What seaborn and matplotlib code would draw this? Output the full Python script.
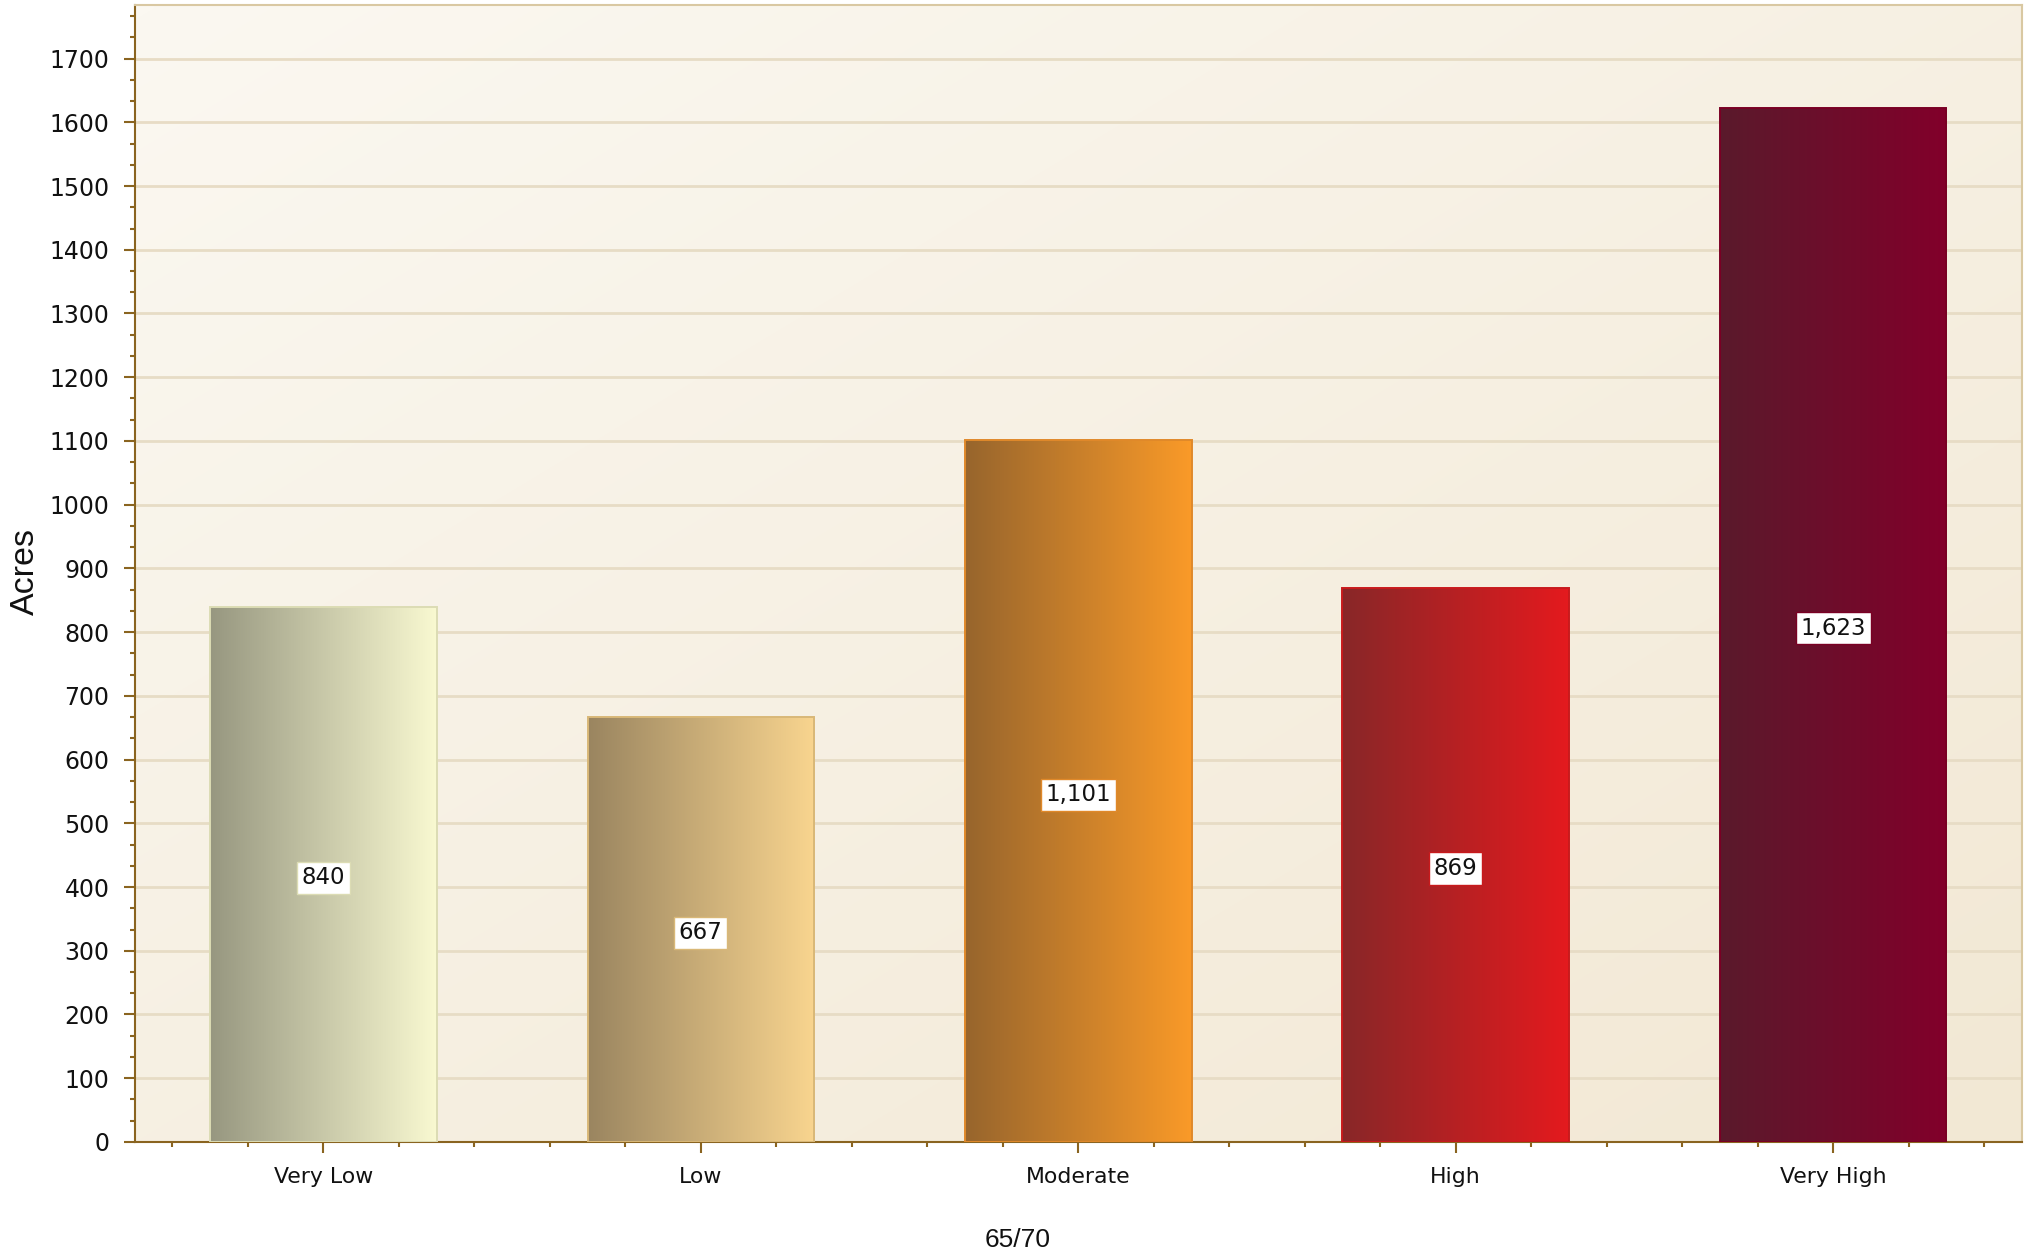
import numpy as np
import pandas as pd
import matplotlib
matplotlib.use("Agg")
import matplotlib.pyplot as plt
from matplotlib.colors import LinearSegmentedColormap
from matplotlib.ticker import MultipleLocator, FuncFormatter
import seaborn as sns

# Acreage per hazard class
categories = ["Very Low", "Low", "Moderate", "High", "Very High"]
acres = [840, 667, 1101, 869, 1623]

# left -> right gradient colours for each bar, plus its outline
grad_left = ["#979780", "#9a8560", "#97652d", "#882728", "#5a1a2c"]
grad_right = ["#f9f9d1", "#f9d58f", "#fa9a28", "#e41a1e", "#82002a"]
edge_cols = ["#dcdcb4", "#d9b878", "#e0892a", "#c81a1c", "#7a0024"]

x_title = "65/70"
y_title = "Acres"

sns.set_style("ticks")
plt.rcParams["font.family"] = ["DejaVu Sans"]

fig = plt.figure(figsize=(20.36, 12.56), dpi=100)
fig.patch.set_facecolor("white")
ax = fig.add_axes([0.0661, 0.0908, 0.9270, 0.9052])

df = pd.DataFrame({"category": categories, "acres": acres})
sns.barplot(data=df, x="category", y="acres", order=categories, width=0.6,
            color="#cccccc", ax=ax, zorder=3, saturation=1)

ax.set_xlim(-0.5, 4.5)
ax.set_ylim(0, 1784)

# soft diagonal background wash
ny, nx = 200, 200
yy, xx = np.mgrid[0:1:ny * 1j, 0:1:nx * 1j]
t = (xx + yy) / 2.0
bg_cmap = LinearSegmentedColormap.from_list("bg", ["#fbf8f1", "#f2e8d4"])
ax.imshow(t, cmap=bg_cmap, extent=[0, 1, 0, 1], transform=ax.transAxes,
          aspect="auto", zorder=0, origin="upper", interpolation="bilinear")
ax.set_facecolor("none")

# horizontal gradient fills clipped to each bar
grad = np.linspace(0, 1, 256).reshape(1, -1)
bars = sorted(ax.patches, key=lambda p: p.get_x())
for bar, cl, cr, ec, val in zip(bars, grad_left, grad_right, edge_cols, acres):
    x0, y0 = bar.get_x(), bar.get_y()
    w, h = bar.get_width(), bar.get_height()
    cmap = LinearSegmentedColormap.from_list("bar", [cl, cr])
    im = ax.imshow(grad, cmap=cmap, extent=[x0, x0 + w, y0, y0 + h],
                   aspect="auto", zorder=3, interpolation="bilinear")
    im.set_clip_path(bar)
    bar.set_facecolor("none")
    bar.set_edgecolor(ec)
    bar.set_linewidth(1.4)
    bar.set_zorder(4)
    ax.annotate(f"{val:,}", xy=(x0 + w / 2, y0 + h / 2),
                xytext=(0, -2.5), textcoords="offset points",
                ha="center", va="center", fontsize=16.5, color="#111111",
                zorder=6,
                bbox=dict(boxstyle="square,pad=0.2", facecolor="white",
                          edgecolor=ec, linewidth=1.0))

ax.set_xlim(-0.5, 4.5)
ax.set_ylim(0, 1784)

# axes, ticks and grid
brown = "#8a6420"
tan = "#d9c8a2"
ax.yaxis.set_major_locator(MultipleLocator(100))
ax.yaxis.set_minor_locator(MultipleLocator(100 / 3))
ax.yaxis.set_major_formatter(FuncFormatter(lambda v, p: f"{int(v)}"))
ax.xaxis.set_minor_locator(MultipleLocator(0.2))
ax.grid(axis="y", which="major", color="#e7dcc5", linewidth=2, zorder=1)
ax.set_axisbelow(True)

ax.tick_params(axis="both", which="major", direction="out", length=8,
               width=1.5, color=brown, labelcolor="#111111", pad=10)
ax.tick_params(axis="x", which="major", labelsize=15.8)
ax.tick_params(axis="y", which="major", labelsize=17)
ax.tick_params(axis="both", which="minor", direction="out", length=3.6,
               width=1.5, color=brown)
for side in ("left", "bottom"):
    ax.spines[side].set_color(brown)
    ax.spines[side].set_linewidth(1.5)
for side in ("top", "right"):
    ax.spines[side].set_visible(True)
    ax.spines[side].set_color(tan)
    ax.spines[side].set_linewidth(1.5)

ax.set_xlabel(x_title, fontsize=19, family=["Liberation Sans"], color="#111111",
              va="center", ha="center")
ax.set_ylabel(y_title, fontsize=24.5, family=["Liberation Sans"], color="#111111",
              va="center", ha="center")
ax.xaxis.set_label_coords(0.468, -0.0862)
ax.yaxis.set_label_coords(-0.058, 0.502)

fig.savefig("out.png", dpi=100, facecolor="white")
